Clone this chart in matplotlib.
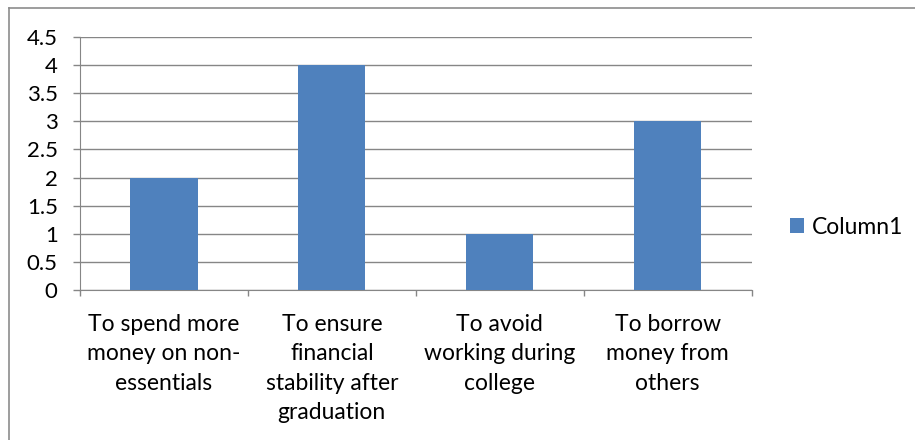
import matplotlib.pyplot as plt
from matplotlib.lines import Line2D
from matplotlib.patches import Patch

categories = [
    "To spend more\nmoney on non-\nessentials",
    "To ensure\nfinancial\nstability after\ngraduation",
    "To avoid\nworking during\ncollege",
    "To borrow\nmoney from\nothers",
]
values = [2, 4, 1, 3]
series_name = "Column1"
yticks = [0, 0.5, 1, 1.5, 2, 2.5, 3, 3.5, 4, 4.5]

bar_color = "#4f81bd"
grid_color = "#868686"

plt.rcParams["font.family"] = ["Lato", "DejaVu Sans"]

fig = plt.figure(figsize=(9.15, 4.4), dpi=100)
ax = fig.add_axes([0.0874, 0.341, 0.734, 0.575])

x = list(range(len(categories)))
ax.bar(x, values, width=0.4, color=bar_color, zorder=3)

ax.set_xlim(-0.5, len(categories) - 0.5)
ax.set_ylim(0, 4.5)
ax.set_yticks(yticks)
ax.set_yticklabels([f"{t:g}" for t in yticks], fontsize=16)
ax.yaxis.grid(True, color=grid_color, linewidth=1, zorder=0)

# category labels sit between the boundary ticks
ax.set_xticks([i - 0.5 for i in range(len(categories) + 1)])
ax.set_xticklabels([])
ax.set_xticks(x, minor=True)
ax.set_xticklabels(categories, minor=True, fontsize=16.5, linespacing=1.5, va="top")
ax.tick_params(axis="x", which="minor", length=0, pad=17)
ax.tick_params(axis="x", which="major", length=4.5, color=grid_color, width=1)
ax.tick_params(axis="y", length=5, color=grid_color, width=1, pad=11)

for side in ["top", "right"]:
    ax.spines[side].set_visible(False)
for side in ["left", "bottom"]:
    ax.spines[side].set_color(grid_color)

handle = Patch(facecolor=bar_color, edgecolor="none")
fig.legend([handle], [series_name], loc="center left", bbox_to_anchor=(0.841, 0.484),
           frameon=False, fontsize=16.5, handlelength=0.6, handleheight=0.6,
           handletextpad=0.35)

# chart frame, only its top and left edges are inside the picture
fig.add_artist(Line2D([0.0093, 1.0], [0.981, 0.981], transform=fig.transFigure,
                      color="#8c8c8c", linewidth=1.2))
fig.add_artist(Line2D([0.0093, 0.0093], [0.0, 0.981], transform=fig.transFigure,
                      color="#8c8c8c", linewidth=1.2))

fig.savefig("out.png", dpi=100)
